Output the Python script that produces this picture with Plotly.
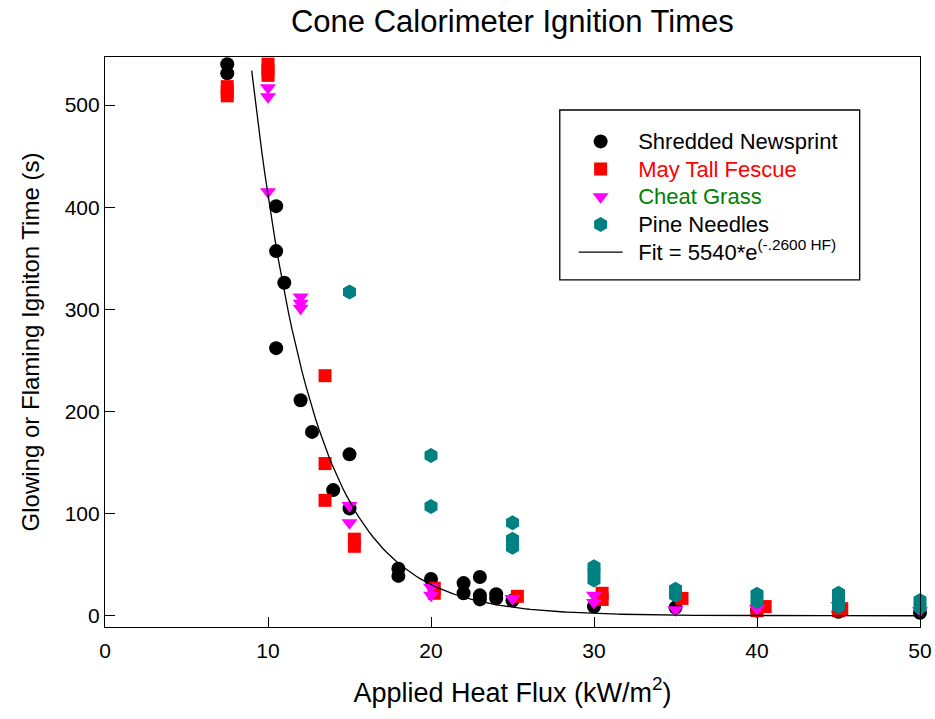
import numpy as np
import plotly.graph_objects as go

# Shredded Newsprint
news_x = [7.5, 7.5, 7.5, 10, 10.5, 10.5, 10.5, 11, 12, 12.7, 14, 15, 15, 18, 18, 20, 22, 22, 23, 23, 23, 24, 24, 25, 30, 35, 40, 45, 50]
news_y = [549, 540, 531, 550, 401, 357, 262, 326, 211, 180, 123, 158, 105, 46, 39, 36, 32, 22, 38, 20, 16, 21, 17, 15, 9, 8, 5, 4, 3]

# May Tall Fescue
fescue_x = [7.5, 7.5, 7.5, 10, 10, 10, 13.5, 13.5, 13.5, 15.3, 15.3, 20.2, 20.2, 25.3, 30.5, 30.5, 35.4, 40.5, 40, 45.2, 45]
fescue_y = [518, 513, 509, 540, 534, 529, 235, 149, 113, 75, 68, 27, 22, 19, 22, 16, 17, 9, 5, 7, 5]

# Cheat Grass
cheat_x = [10, 10, 10, 12, 12, 12, 15, 15, 20, 20, 25, 30, 30, 35, 40, 45, 50]
cheat_y = [517, 508, 415, 312, 306, 301, 108, 91, 28, 20, 17, 20, 13, 6, 7, 10, 5]

# Pine Needles
pine_x = [15, 20, 20, 25, 25, 25, 30, 30, 30, 35, 35, 40, 40, 45, 45, 45, 50, 50]
pine_y = [317, 157, 107, 91, 75, 67, 48, 42, 35, 26, 20, 21, 14, 22, 15, 9, 15, 8]

# Fit parameters as stated in the legend: 5540*e^(-.2600 HF)
FIT_A = 5540
FIT_B = 0.26
fit_x = np.linspace(9, 50, 200)
fit_y = FIT_A * np.exp(-FIT_B * fit_x)

x_ticks = [0, 10, 20, 30, 40, 50]
y_ticks = [0, 100, 200, 300, 400, 500]

FONT = "Liberation Sans, Arial, sans-serif"


def lg(text, color=None):
    style = "font-size:22px"
    if color:
        style += ";color:" + color
    return "&nbsp;&nbsp;<span style='" + style + "'>" + text + "</span>"


fig = go.Figure()
fig.add_trace(go.Scatter(x=news_x, y=news_y, mode="markers", name=lg("Shredded Newsprint"),
                         marker=dict(symbol="circle", size=14, color="black"), cliponaxis=False))
fig.add_trace(go.Scatter(x=fescue_x, y=fescue_y, mode="markers",
                         name=lg("May Tall Fescue", "#FF0000"),
                         marker=dict(symbol="square", size=13, color="#FF0000"), cliponaxis=False))
fig.add_trace(go.Scatter(x=cheat_x, y=cheat_y, mode="markers",
                         name=lg("Cheat Grass", "#008000"),
                         marker=dict(symbol="triangle-down", size=14, color="#FF00FF"), cliponaxis=False))
fig.add_trace(go.Scatter(x=pine_x, y=pine_y, mode="markers", name=lg("Pine Needles"),
                         marker=dict(symbol="hexagon", size=15, color="#008080"), cliponaxis=False))
fig.add_trace(go.Scatter(x=fit_x, y=fit_y, mode="lines",
                         name=lg("Fit = 5540*e<sup>(-.2600 HF)</sup>"),
                         line=dict(color="black", width=1.3)))

# legend frame
fig.add_shape(type="rect", xref="paper", yref="paper", x0=0.558, x1=0.926, y0=0.609, y1=0.907,
              line=dict(color="black", width=1.3), fillcolor="white", layer="below")

fig.update_layout(
    width=935, height=719,
    paper_bgcolor="white", plot_bgcolor="white",
    margin=dict(l=105, r=15, t=57, b=92, autoexpand=False),
    font=dict(family=FONT, color="black", size=21),
    title=dict(text="Cone Calorimeter Ignition Times", x=0.548, xanchor="center",
               y=0.970, yanchor="middle", font=dict(size=31, family=FONT)),
    showlegend=True,
    legend=dict(x=0.575, y=0.885, xanchor="left", yanchor="top",
                bgcolor="rgba(0,0,0,0)", borderwidth=0,
                font=dict(size=19, family=FONT), itemwidth=44),
)
fig.update_xaxes(range=[0, 50], tickvals=x_ticks, ticks="inside", ticklen=10, tickcolor="black",
                 showline=True, linecolor="black", linewidth=1.2, mirror=True, showgrid=False,
                 zeroline=False, tickfont=dict(size=21), automargin=False, ticklabelstandoff=5,
                 title=dict(text="Applied Heat Flux (kW/m<sup>2</sup>)", font=dict(size=27), standoff=21))
fig.update_yaxes(range=[-11, 547], tickvals=y_ticks, ticks="inside", ticklen=10, tickcolor="black",
                 showline=True, linecolor="black", linewidth=1.2, mirror=True, showgrid=False,
                 zeroline=False, tickfont=dict(size=21), automargin=False,
                 title=dict(text="Glowing or Flaming Igniton Time (s)", font=dict(size=24), standoff=18))

fig.write_html("out.html", config={"displayModeBar": False},
               post_script="document.body.style.margin='0';")
